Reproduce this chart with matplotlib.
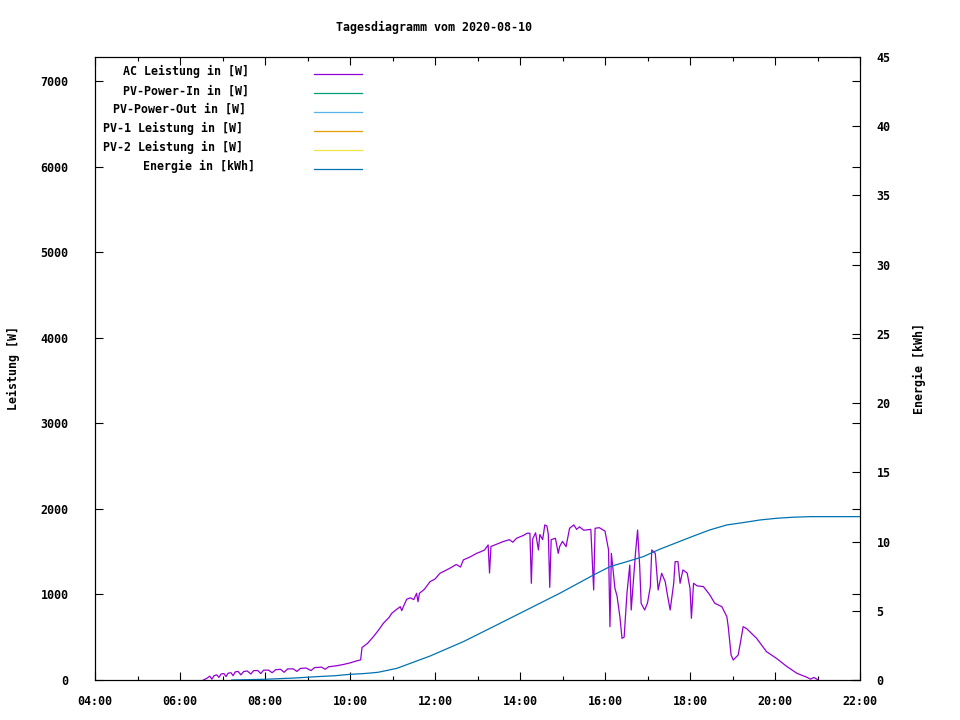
import matplotlib
matplotlib.use("Agg")
import matplotlib.pyplot as plt
from matplotlib.lines import Line2D

# ---------------- data ----------------
ac_times = ["06:33","06:38","06:42","06:45","06:48","06:52","06:55","06:58","07:02","07:05",
            "07:08","07:12","07:15","07:18","07:22","07:26","07:30","07:35","07:40","07:44",
            "07:50","07:54","07:58","08:05","08:10","08:15","08:22","08:27","08:32","08:40",
            "08:45","08:50","08:58","09:05","09:10","09:20","09:25","09:30","09:40","09:50",
            "10:00","10:10","10:15","10:17","10:25","10:33","10:40","10:47","10:55","10:59",
            "11:05","11:11","11:13","11:16","11:20","11:25","11:30","11:34","11:36","11:38",
            "11:45","11:53","12:00","12:07","12:15","12:21","12:30","12:36","12:40","12:50",
            "12:59","13:05","13:10","13:15","13:17","13:19","13:28","13:36","13:45","13:50",
            "13:55","14:05","14:10","14:14","14:16","14:18","14:22","14:26","14:28","14:32",
            "14:35","14:38","14:40","14:42","14:44","14:50","14:54","14:56","15:00","15:05",
            "15:10","15:16","15:20","15:24","15:30","15:40","15:44","15:46","15:52","16:00",
            "16:05","16:07","16:09","16:14","16:17","16:21","16:24","16:27","16:31","16:35",
            "16:37","16:43","16:46","16:49","16:51","16:56","17:00","17:04","17:06","17:11",
            "17:15","17:20","17:25","17:28","17:32","17:37","17:39","17:43","17:46","17:50",
            "17:56","18:00","18:02","18:05","18:10","18:19","18:28","18:35","18:45","18:52",
            "18:54","18:58","19:01","19:08","19:11","19:15","19:20","19:34","19:48","20:02",
            "20:17","20:31","20:45","20:50","20:55","21:01"]
ac_watts = [0,20,45,10,50,60,30,70,75,40,
            80,85,50,95,100,60,100,105,70,110,
            110,75,115,115,85,120,125,90,130,130,
            100,135,140,110,145,150,125,155,165,180,
            200,225,235,380,430,506,580,662,730,780,
            820,857,810,870,943,960,940,1013,915,1013,
            1060,1149,1180,1247,1280,1306,1350,1320,1403,1440,
            1481,1500,1520,1578,1250,1560,1590,1617,1640,1610,
            1656,1690,1715,1715,1130,1650,1720,1520,1700,1640,
            1812,1800,1700,1083,1640,1656,1480,1560,1620,1558,
            1773,1812,1760,1790,1750,1760,1052,1773,1780,1740,
            1520,623,1480,1072,980,740,487,500,1013,1344,
            818,1480,1753,1325,896,818,900,1091,1520,1480,
            1052,1247,1150,1000,818,1130,1383,1383,1130,1286,
            1250,1072,721,1130,1100,1091,994,896,857,740,
            623,292,234,292,429,623,600,487,331,253,
            156,78,32,10,30,0]

energy_times = ["07:13","07:58","08:40","09:13","09:39","10:00","10:18","10:28","10:40","11:06",
                "11:53","12:40","13:27","14:14","14:56","15:44","16:07","16:31","16:54","17:17",
                "17:41","18:05","18:28","18:52","19:15","19:39","20:02","20:26","20:50","22:00"]
energy_kwh = [0,0.05,0.14,0.24,0.31,0.41,0.46,0.50,0.56,0.84,
              1.73,2.77,3.97,5.18,6.26,7.59,8.19,8.55,8.91,9.44,
              9.92,10.4,10.84,11.2,11.37,11.56,11.68,11.76,11.8,11.8]

# series with no data on this day
pv_in_times, pv_in_watts = [], []
pv_out_times, pv_out_watts = [], []
pv1_times, pv1_watts = [], []
pv2_times, pv2_watts = [], []

series_labels = ["AC Leistung in [W]", "PV-Power-In in [W]", "PV-Power-Out in [W]",
                 "PV-1 Leistung in [W]", "PV-2 Leistung in [W]", "Energie in [kWh]"]
x_tick_labels = ["04:00","06:00","08:00","10:00","12:00","14:00","16:00","18:00","20:00","22:00"]
y1_ticks = [0,1000,2000,3000,4000,5000,6000,7000]
y2_ticks = [0,5,10,15,20,25,30,35,40,45]

def to_h(s):
    h, m = s.split(":")
    return int(h) + int(m) / 60.0

# ---------------- styling ----------------
colors = ["#9400D3", "#009E73", "#56B4E9", "#E69F00", "#F0E442", "#0072B2"]
FONT = dict(family="DejaVu Sans Mono", size=8.4, weight="bold")
plt.rcParams["font.family"] = "DejaVu Sans Mono"
plt.rcParams["font.size"] = 8.4
plt.rcParams["font.weight"] = "bold"

W, H = 960, 720
fig = plt.figure(figsize=(9.6, 7.2), dpi=100)
L, R, T, B = 95, 860, 57, 680
ax = fig.add_axes([L / W, 1 - B / H, (R - L) / W, (B - T) / H])
ax2 = ax.twinx()

lw = 0.9
ax.plot([to_h(t) for t in ac_times], ac_watts, color=colors[0], lw=lw)
ax.plot([to_h(t) for t in pv_in_times], pv_in_watts, color=colors[1], lw=lw)
ax.plot([to_h(t) for t in pv_out_times], pv_out_watts, color=colors[2], lw=lw)
ax.plot([to_h(t) for t in pv1_times], pv1_watts, color=colors[3], lw=lw)
ax.plot([to_h(t) for t in pv2_times], pv2_watts, color=colors[4], lw=lw)
ax2.plot([to_h(t) for t in energy_times], energy_kwh, color=colors[5], lw=lw)

ax.set_xlim(4, 22)
ax.set_ylim(0, 7280)
ax2.set_ylim(0, 45)

xt = [to_h(s) for s in x_tick_labels]
ax.set_xticks(xt)
ax.set_xticklabels(x_tick_labels, fontdict=FONT)
ax.set_xticks([x + 1 for x in xt[:-1]], minor=True)
ax.set_yticks(y1_ticks)
ax.set_yticklabels([str(v) for v in y1_ticks], fontdict=FONT)
ax2.set_yticks(y2_ticks)
ax2.set_yticklabels([str(v) for v in y2_ticks], fontdict=FONT)

ax.tick_params(axis="x", which="major", direction="in", length=5.5, width=0.8,
               top=True, bottom=True, pad=11)
ax.tick_params(axis="x", which="minor", direction="in", length=2.7, width=0.8,
               top=True, bottom=True)
ax.tick_params(axis="y", which="major", direction="in", length=5.5, width=0.8,
               left=True, right=True, pad=19)
ax2.tick_params(axis="y", which="major", direction="in", length=5.5, width=0.8,
                right=True, left=False, pad=12)
for a in (ax, ax2):
    for sp in a.spines.values():
        sp.set_linewidth(0.8)
        sp.set_color("black")

ax.set_ylabel("Leistung [W]", fontdict=FONT)
ax.yaxis.set_label_coords((20 - L) / (R - L), 0.5)
ax2.set_ylabel("Energie [kWh]", fontdict=FONT, rotation=90)
ax2.yaxis.set_label_coords((913 - L) / (R - L), 0.5)

fig.text(434.5 / W, 1 - 27 / H, "Tagesdiagramm vom 2020-08-10", ha="center", va="center",
         fontdict=FONT)

# legend (gnuplot style key)
text_x = [123, 123, 113, 103, 103, 143]
row_y = [71.7, 90.7, 109.6, 128.6, 147.6, 166.6]
for i, lab in enumerate(series_labels):
    fig.text(text_x[i] / W, 1 - row_y[i] / H, lab, ha="left", va="center", fontdict=FONT)
    ly = 1 - (row_y[i] + 2.5) / H
    fig.add_artist(Line2D([314 / W, 362 / W], [ly, ly], color=colors[i], lw=lw,
                          transform=fig.transFigure))

fig.savefig("out.png", dpi=100)
